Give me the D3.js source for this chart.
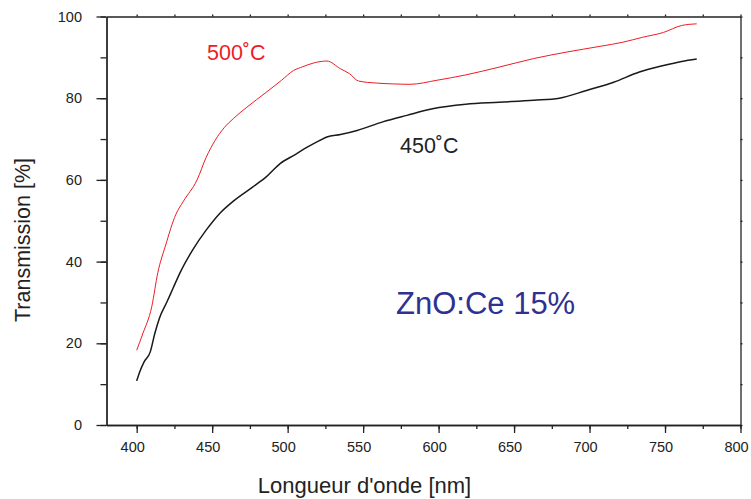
<!DOCTYPE html>
<html><head><meta charset="utf-8">
<script src="https://cdn.jsdelivr.net/npm/d3@7"></script>
<style>
html,body{margin:0;padding:0;background:#fff;}
svg{display:block;font-family:"Liberation Sans",Arial,sans-serif;}
</style></head>
<body>
<svg id="c" width="751" height="499"></svg>
<script>
// wavelength (nm) and transmission (%) for the 500 °C film
const wl500 = [400,404,410,414,419,426,431,440,446,452,458,464,473,486,496,504,510,517,526,535,541,547,559,570,581,599,618,640,663,685,707,722,735,749,761,771];
const tr500 = [18.3,22.3,29,37.3,43.8,51.6,54.8,60,65.5,69.7,72.8,75,77.8,81.5,84.4,86.8,87.7,88.6,89.1,87.2,86,84.2,83.7,83.5,83.4,84.4,85.7,87.6,89.7,91.3,92.7,93.7,94.9,96.1,97.8,98.2];
// wavelength (nm) and transmission (%) for the 450 °C film
const wl450 = [400,402,405,409,412,415,420,424,429,437,446,455,464,477,486,495,505,513,521,526,535,546,563,579,596,618,640,663,680,698,716,733,749,761,771];
const tr450 = [10.8,13,15.5,17.9,22.4,26.1,30.1,33.4,37.5,42.8,47.7,51.8,54.8,58.3,60.8,64,66.2,68,69.6,70.5,71.1,72.1,74.2,75.8,77.4,78.5,79,79.5,80,81.9,83.9,86.4,88,89,89.6];
const xTicks = [400,450,500,550,600,650,700,750,800];
const yTicks = [0,20,40,60,80,100];
const xTitle = "Longueur d'onde [nm]";
const yTitle = "Transmission [%]";
const label500 = "500˚C";
const label450 = "450˚C";
const sampleLabel = "ZnO:Ce 15%";

const svg = d3.select("#c");
const L = 106.5, R = 740.5, T = 16.5, B = 425;
const x = d3.scaleLinear().domain([380, 800]).range([L, R]);
const y = d3.scaleLinear().domain([0, 100]).range([B, T]);
const axisColor = "#222";

function styleAxis(g){
  g.selectAll("path,line").attr("stroke", axisColor).attr("stroke-width", 1.3);
  g.selectAll("text").attr("fill", axisColor).style("font-size", "14.5px").style("font-family", '"Liberation Sans",Arial,sans-serif');
}

// minor ticks
svg.append("g").attr("transform", `translate(0,${B})`)
  .call(d3.axisBottom(x).tickValues(d3.range(400, 801, 25)).tickSize(4).tickFormat("").tickSizeOuter(0))
  .call(styleAxis);
svg.append("g").attr("transform", `translate(${L},0)`)
  .call(d3.axisLeft(y).tickValues(d3.range(0, 101, 10)).tickSize(6).tickFormat("").tickSizeOuter(0))
  .call(styleAxis);
// major
svg.append("g").attr("transform", `translate(0,${B})`)
  .call(d3.axisBottom(x).tickValues(xTicks).tickSize(8).tickPadding(9).tickSizeOuter(0))
  .call(styleAxis)
  .call(g => g.selectAll("text").attr("dx", -4.5));
svg.append("g").attr("transform", `translate(${L},0)`)
  .call(d3.axisLeft(y).tickValues(yTicks).tickSize(10).tickPadding(14.5).tickSizeOuter(0))
  .call(styleAxis);
// top and right
svg.append("g").attr("transform", `translate(0,${T})`)
  .call(d3.axisTop(x).tickValues(d3.range(400, 801, 25)).tickSize(2).tickFormat("").tickSizeOuter(0))
  .call(styleAxis);
svg.append("g").attr("transform", `translate(${R},0)`)
  .call(d3.axisRight(y).tickValues(d3.range(0, 101, 10)).tickSize(2).tickFormat("").tickSizeOuter(0))
  .call(styleAxis);

const line = d3.line().x(d => x(d[0])).y(d => y(d[1])).curve(d3.curveMonotoneX);
svg.append("path").datum(wl450.map((w, i) => [w, tr450[i]]))
  .attr("d", line).attr("fill", "none").attr("stroke", "#1a1a1a").attr("stroke-width", 1.5);
svg.append("path").datum(wl500.map((w, i) => [w, tr500[i]]))
  .attr("d", line).attr("fill", "none").attr("stroke", "#ed1c24").attr("stroke-width", 1);

svg.append("text").attr("x", 207).attr("y", 60).attr("fill", "#ed1c24")
  .style("font-size", "21.5px").text(label500);
svg.append("text").attr("x", 400).attr("y", 152.7).attr("fill", "#222")
  .style("font-size", "21.5px").text(label450);
svg.append("text").attr("x", 396).attr("y", 314.3).attr("fill", "#2e3192")
  .style("font-size", "31px").text(sampleLabel);

svg.append("text").attr("x", 364.5).attr("y", 492.5).attr("text-anchor", "middle")
  .attr("fill", "#222").style("font-size", "22px").text(xTitle);
svg.append("text").attr("transform", "translate(29.5,240) rotate(-90)").attr("text-anchor", "middle")
  .attr("fill", "#222").style("font-size", "21.5px").text(yTitle);
</script>
</body></html>
